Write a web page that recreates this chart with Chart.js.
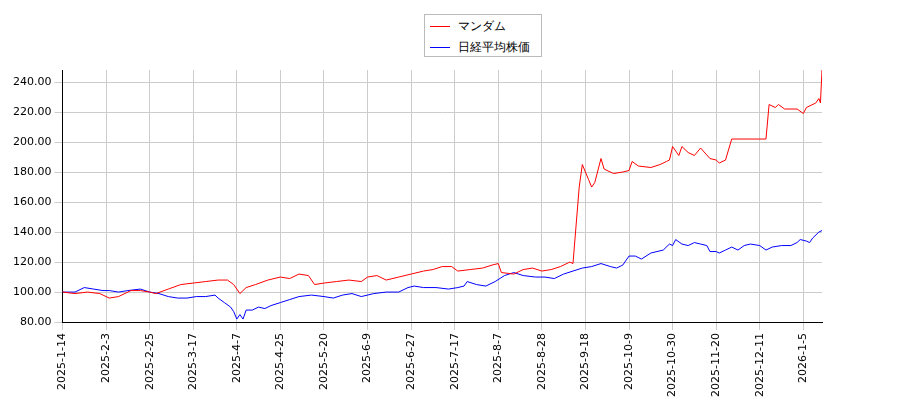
<!DOCTYPE html>
<html><head><meta charset="utf-8">
<script src="https://cdn.jsdelivr.net/npm/chart.js@4"></script>
<style>body{margin:0;background:#fff}#w{position:relative;width:900px;height:400px}
#lg{position:absolute;left:424px;top:14px;width:116px;height:41px;border:1px solid #bbb;background:#fff;font:12px "DejaVu Sans",sans-serif;color:#000}
#lg div{display:flex;align-items:center;height:19px;margin-top:2px;padding-left:5px}
#lg span.l{display:inline-block;width:20px;height:0;border-top:1.5px solid;margin-right:8px}</style>
</head><body><div id="w"><canvas id="c" width="900" height="400"></canvas>
<div id="lg"><div><span class="l" style="border-color:#f00"></span>マンダム</div><div><span class="l" style="border-color:#00f"></span>日経平均株価</div></div></div>
<script>
const tickLabels=["2025-1-14","2025-2-3","2025-2-25","2025-3-17","2025-4-7","2025-4-25","2025-5-20","2025-6-9","2025-6-27","2025-7-17","2025-8-7","2025-8-28","2025-9-18","2025-10-9","2025-10-30","2025-11-20","2025-12-11","2026-1-5"];
const redX=[0,4,8,12,15,18,22,25,28,30,34,38,42,46,50,53,55,57,59,62,66,70,73,76,79,81,84,88,92,96,98,101,104,108,112,116,119,122,125,127,131,135,138,140,141,145,148,151,154,157,160,163,164,166,167,169,170,171,173,174,177,180,182,183,185,189,192,194,195,196,198,199,201,203,205,208,210,211,213,215,218,224,226,227,229,230,232,236,238,239,242,243,243.5,244];
const redY=[100,99,100,99,96,97,101,101,100,99,102,105,106,107,108,108,105,99,103,105,108,110,109,112,111,105,106,107,108,107,110,111,108,110,112,114,115,117,117,114,115,116,118,119,113,112,115,116,114,115,117,120,119,170,185,175,170,173,189,182,179,180,181,187,184,183,185,187,188,197,191,197,193,191,196,189,188,186,188,202,202,202,202,225,223,225,222,222,219,223,226,229,226,248];
const blueX=[0,4,7,10,13,15,18,21,25,28,31,34,37,40,43,46,49,50,52,54,55,56,57,58,59,61,63,65,67,70,73,76,80,84,87,90,93,96,100,104,108,111,113,116,120,124,127,129,130,133,136,139,142,145,148,152,155,158,161,164,167,170,173,176,178,180,182,184,186,189,191,193,195,196,197,199,201,203,205,207,208,210,211,213,215,217,219,221,224,226,228,231,234,236,237,239,240,241,243,244];
const blueY=[100,100,103,102,101,101,100,101,102,100,99,97,96,96,97,97,98,96,93,90,87,82,85,82,88,88,90,89,91,93,95,97,98,97,96,98,99,97,99,100,100,103,104,103,103,102,103,104,107,105,104,107,111,113,111,110,110,109,112,114,116,117,119,117,116,118,124,124,122,126,127,128,132,131,135,132,131,133,132,131,127,127,126,128,130,128,131,132,131,128,130,131,131,133,135,134,133,136,140,141];
const pts=(xs,ys)=>xs.map((x,i)=>({x,y:ys[i]}));
new Chart(document.getElementById('c'),{type:'line',
data:{datasets:[
{label:'マンダム',data:pts(redX,redY),borderColor:'#ff0000',borderWidth:1,pointRadius:0,tension:0},
{label:'日経平均株価',data:pts(blueX,blueY),borderColor:'#0000ff',borderWidth:1,pointRadius:0,tension:0}]},
options:{responsive:false,animation:false,
layout:{padding:{left:10,right:78,top:70,bottom:0}},
plugins:{legend:{display:false},tooltip:{enabled:false}},
scales:{
x:{type:'linear',min:0,max:244,grid:{color:'#cccccc'},border:{color:'#000'},
 ticks:{autoSkip:false,maxRotation:90,minRotation:90,color:'#000',font:{size:11,family:'DejaVu Sans'},callback:v=>tickLabels[Math.round(v/14)]||''},
 afterBuildTicks:a=>{a.ticks=tickLabels.map((_,i)=>({value:i*14}));}},
y:{min:80,max:248,grid:{color:'#cccccc'},border:{color:'#000'},
 ticks:{color:'#000',font:{size:11,family:'DejaVu Sans'},callback:v=>v.toFixed(2)},
 afterBuildTicks:a=>{a.ticks=[80,100,120,140,160,180,200,220,240].map(v=>({value:v}));}}
}}});
</script></body></html>
